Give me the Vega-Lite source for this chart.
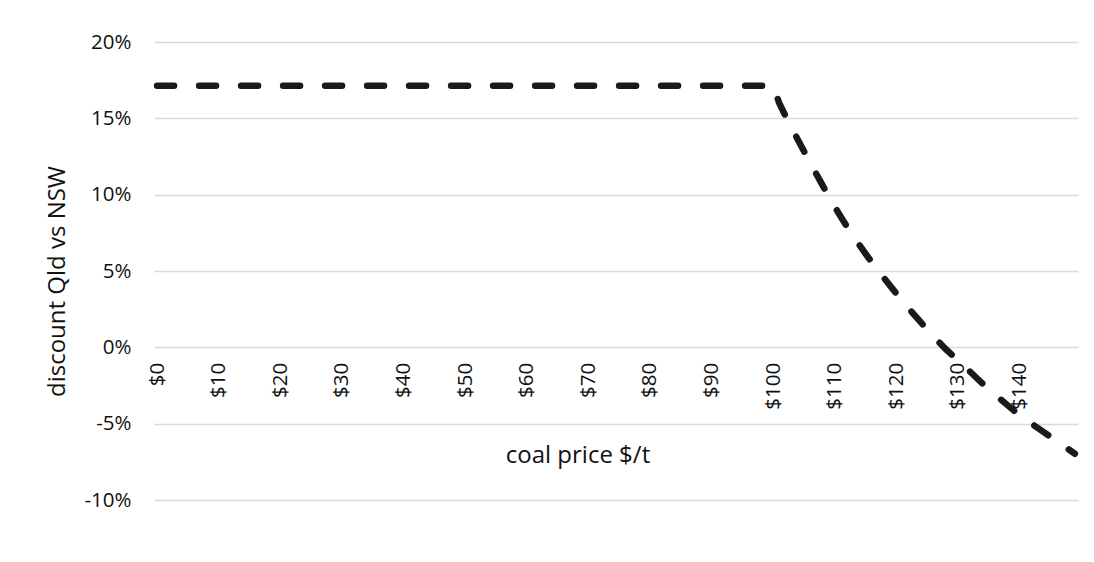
{
  "$schema": "https://vega.github.io/schema/vega-lite/v6.json",
  "autosize": "none",
  "width": 924,
  "height": 458,
  "padding": {"left": 154, "top": 42, "right": 16, "bottom": 62},
  "background": "#ffffff",
  "config": {
    "view": {"stroke": null},
    "font": "Open Sans",
    "axis": {"labelFont": "Open Sans", "titleFont": "Open Sans", "labelColor": "#111111", "titleColor": "#111111", "titleFontWeight": "normal"}
  },
  "data": {
    "values": [
      {"price": 0, "discount": 0.1713},
      {"price": 10, "discount": 0.1713},
      {"price": 20, "discount": 0.1713},
      {"price": 30, "discount": 0.1713},
      {"price": 40, "discount": 0.1713},
      {"price": 50, "discount": 0.1713},
      {"price": 60, "discount": 0.1713},
      {"price": 70, "discount": 0.1713},
      {"price": 80, "discount": 0.1713},
      {"price": 90, "discount": 0.1713},
      {"price": 100, "discount": 0.1713},
      {"price": 101, "discount": 0.1600},
      {"price": 102, "discount": 0.1517},
      {"price": 103, "discount": 0.1439},
      {"price": 104, "discount": 0.1362},
      {"price": 105, "discount": 0.1286},
      {"price": 106, "discount": 0.1211},
      {"price": 107, "discount": 0.1137},
      {"price": 108, "discount": 0.1064},
      {"price": 109, "discount": 0.0992},
      {"price": 110, "discount": 0.0922},
      {"price": 111, "discount": 0.0855},
      {"price": 112, "discount": 0.0791},
      {"price": 113, "discount": 0.0730},
      {"price": 114, "discount": 0.0671},
      {"price": 115, "discount": 0.0614},
      {"price": 116, "discount": 0.0559},
      {"price": 117, "discount": 0.0506},
      {"price": 118, "discount": 0.0454},
      {"price": 119, "discount": 0.0403},
      {"price": 120, "discount": 0.0353},
      {"price": 121, "discount": 0.0304},
      {"price": 122, "discount": 0.0256},
      {"price": 123, "discount": 0.0209},
      {"price": 124, "discount": 0.0163},
      {"price": 125, "discount": 0.0118},
      {"price": 126, "discount": 0.0074},
      {"price": 127, "discount": 0.0031},
      {"price": 128, "discount": -0.0011},
      {"price": 129, "discount": -0.0048},
      {"price": 130, "discount": -0.0082},
      {"price": 131, "discount": -0.0121},
      {"price": 132, "discount": -0.0160},
      {"price": 133, "discount": -0.0199},
      {"price": 134, "discount": -0.0237},
      {"price": 135, "discount": -0.0275},
      {"price": 136, "discount": -0.0309},
      {"price": 137, "discount": -0.0343},
      {"price": 138, "discount": -0.0377},
      {"price": 139, "discount": -0.0411},
      {"price": 140, "discount": -0.0445},
      {"price": 141, "discount": -0.0473},
      {"price": 142, "discount": -0.0501},
      {"price": 143, "discount": -0.0529},
      {"price": 144, "discount": -0.0557},
      {"price": 145, "discount": -0.0585},
      {"price": 146, "discount": -0.0613},
      {"price": 147, "discount": -0.0641},
      {"price": 148, "discount": -0.0669},
      {"price": 149, "discount": -0.0697}
    ]
  },
  "mark": {"type": "line", "color": "#1a1a1a", "strokeWidth": 6.5, "strokeCap": "round", "strokeJoin": "round", "strokeDash": [17, 25], "clip": false},
  "encoding": {
    "x": {
      "field": "price",
      "type": "quantitative",
      "scale": {"domain": [-0.5, 149.5], "nice": false, "zero": false},
      "axis": {
        "orient": "bottom",
        "offset": -152.7,
        "values": [0, 10, 20, 30, 40, 50, 60, 70, 80, 90, 100, 110, 120, 130, 140],
        "labelExpr": "'$' + datum.value",
        "labelAngle": -90,
        "labelAlign": "right",
        "labelBaseline": "middle",
        "labelPadding": 15,
        "labelFontSize": 20.5,
        "labelOverlap": false,
        "labelFlush": false,
        "domain": false,
        "ticks": false,
        "tickSize": 0,
        "grid": false,
        "title": "coal price $/t",
        "titleFontSize": 24,
        "titleX": 423.5,
        "titleY": 108,
        "titleAlign": "center",
        "titleBaseline": "middle",
        "titleAngle": 0
      }
    },
    "y": {
      "field": "discount",
      "type": "quantitative",
      "scale": {"domain": [-0.1, 0.2], "nice": false, "zero": false},
      "axis": {
        "values": [-0.1, -0.05, 0, 0.05, 0.1, 0.15, 0.2],
        "labelExpr": "replace(format(datum.value, '.0%'), '\u2212', '-')",
        "labelFontSize": 20.5,
        "labelPadding": 23,
        "domain": false,
        "ticks": false,
        "tickSize": 0,
        "grid": true,
        "gridColor": "#d9d9d9",
        "gridWidth": 1.3,
        "title": "discount Qld vs NSW",
        "titleFontSize": 24,
        "titleAngle": -90,
        "titleX": -97,
        "titleY": 239,
        "titleAlign": "center",
        "titleBaseline": "middle"
      }
    }
  }
}
